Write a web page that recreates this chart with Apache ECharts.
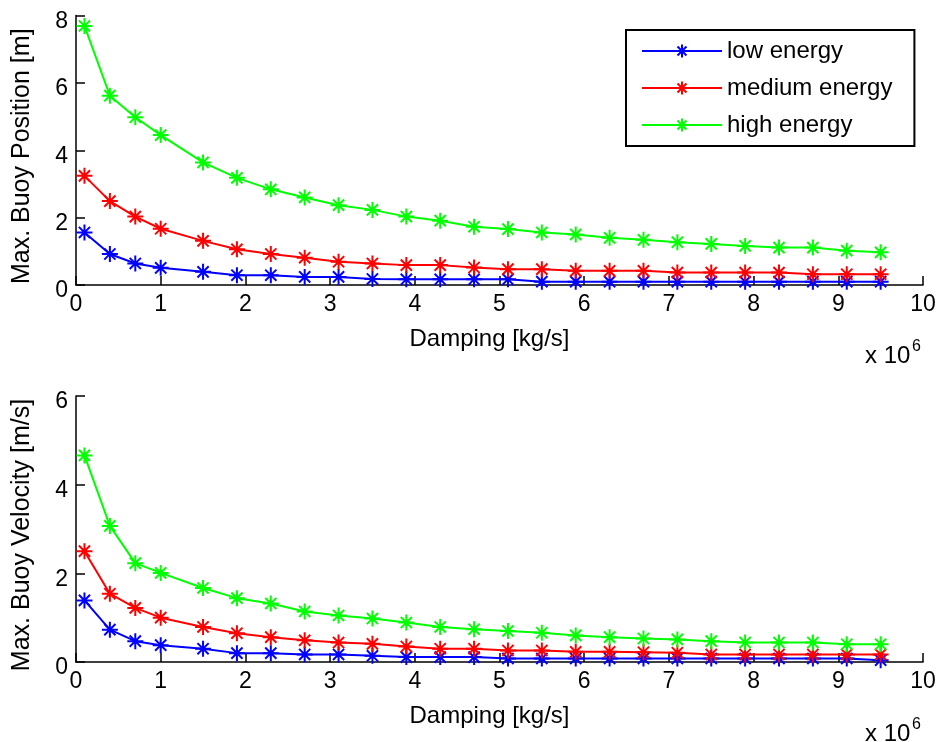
<!DOCTYPE html>
<html>
<head>
<meta charset="utf-8">
<script src="https://cdn.jsdelivr.net/npm/echarts@6/dist/echarts.min.js"></script>
<style>
  html, body { margin: 0; padding: 0; background: #fff; }
  #chart { width: 943px; height: 742px; }
</style>
</head>
<body>
<div id="chart"></div>
<script>
// Damping values (x 10^6 kg/s)
const damping = [0.1, 0.4, 0.7, 1.0, 1.5, 1.9, 2.3, 2.7, 3.1, 3.5, 3.9, 4.3, 4.7,
                 5.1, 5.5, 5.9, 6.3, 6.7, 7.1, 7.5, 7.9, 8.3, 8.7, 9.1, 9.5];

// Maximum buoy position [m]
const posLow    = [1.56, 0.92, 0.64, 0.51, 0.39, 0.29, 0.29, 0.24, 0.24, 0.18, 0.17, 0.17, 0.17,
                   0.17, 0.10, 0.10, 0.10, 0.10, 0.10, 0.10, 0.10, 0.10, 0.10, 0.10, 0.10];
const posMedium = [3.24, 2.49, 2.03, 1.67, 1.31, 1.06, 0.92, 0.81, 0.69, 0.64, 0.59, 0.59, 0.52,
                   0.47, 0.47, 0.42, 0.42, 0.42, 0.37, 0.37, 0.37, 0.37, 0.32, 0.32, 0.32];
const posHigh   = [7.69, 5.62, 4.98, 4.45, 3.64, 3.18, 2.84, 2.60, 2.37, 2.23, 2.03, 1.91, 1.73,
                   1.66, 1.56, 1.50, 1.40, 1.34, 1.27, 1.22, 1.16, 1.11, 1.11, 1.02, 0.97];

// Maximum buoy velocity [m/s]
const velLow    = [1.39, 0.73, 0.47, 0.38, 0.30, 0.20, 0.20, 0.17, 0.17, 0.14, 0.11, 0.11, 0.11,
                   0.08, 0.08, 0.08, 0.08, 0.08, 0.08, 0.08, 0.08, 0.08, 0.08, 0.08, 0.04];
const velMedium = [2.50, 1.54, 1.22, 1.00, 0.79, 0.65, 0.56, 0.49, 0.44, 0.41, 0.35, 0.30, 0.30,
                   0.26, 0.26, 0.23, 0.23, 0.22, 0.21, 0.17, 0.17, 0.17, 0.17, 0.17, 0.17];
const velHigh   = [4.66, 3.07, 2.23, 2.01, 1.67, 1.44, 1.32, 1.14, 1.05, 0.98, 0.89, 0.79, 0.74,
                   0.70, 0.66, 0.60, 0.56, 0.53, 0.51, 0.47, 0.44, 0.44, 0.44, 0.40, 0.40];

const seriesNames = ['low energy', 'medium energy', 'high energy'];
const seriesColors = ['#0000ff', '#ff0000', '#00ff00'];

const FONT = '"Liberation Sans", Arial, Helvetica, sans-serif';
// asterisk marker: horizontal, vertical and two diagonal strokes
const ASTERISK = 'path://M0,-10L0,10M-10,0L10,0M-7,-7L7,7M-7,7L7,-7';

const pairs = ys => damping.map((x, i) => [x, ys[i]]);

function xAxisDef(gridIndex) {
  return {
    gridIndex,
    type: 'value',
    min: 0, max: 10, interval: 1,
    name: 'Damping [kg/s]',
    nameLocation: 'middle',
    nameGap: 42,
    nameTextStyle: { fontFamily: FONT, fontSize: 24, color: '#000', padding: [0, 20, 0, 0] },
    axisLine: { lineStyle: { color: '#000', width: 1.5 } },
    axisTick: { inside: true, length: 9, lineStyle: { color: '#000', width: 1.5 } },
    axisLabel: { fontFamily: FONT, fontSize: 23, color: '#000', margin: 8 },
    splitLine: { show: false }
  };
}

function yAxisDef(gridIndex, max, title) {
  return {
    gridIndex,
    type: 'value',
    min: 0, max, interval: 2,
    name: title,
    nameLocation: 'middle',
    nameGap: 41,
    nameTextStyle: { fontFamily: FONT, fontSize: 25, color: '#000', padding: [0, 12, 0, 0] },
    axisLine: { show: true, lineStyle: { color: '#000', width: 1.5 } },
    axisTick: { show: true, inside: true, length: 9, lineStyle: { color: '#000', width: 1.5 } },
    axisLabel: { fontFamily: FONT, fontSize: 23, color: '#000', margin: 8,
                 verticalAlign: 'top', lineHeight: 12 },
    splitLine: { show: false }
  };
}

function lineSeries(name, color, ys, idx) {
  return {
    name,
    type: 'line',
    xAxisIndex: idx, yAxisIndex: idx,
    data: pairs(ys),
    symbol: ASTERISK,
    symbolSize: 16,
    showAllSymbol: true,
    lineStyle: { color, width: 2 },
    itemStyle: { color, borderColor: color, borderWidth: 2 },
    emphasis: { disabled: true },
    animation: false
  };
}

const posSets = [posLow, posMedium, posHigh];
const velSets = [velLow, velMedium, velHigh];

const series = [];
seriesNames.forEach((n, i) => series.push(lineSeries(n, seriesColors[i], posSets[i], 0)));
seriesNames.forEach((n, i) => series.push(lineSeries(n, seriesColors[i], velSets[i], 1)));

function exponentLabel(top) {
  return {
    type: 'group',
    children: [
      { type: 'text', left: 865, top: top,
        style: { text: 'x 10', font: '24px ' + FONT, fill: '#000' } },
      { type: 'text', left: 912, top: top - 5,
        style: { text: '6', font: '16px ' + FONT, fill: '#000' } }
    ]
  };
}

const chart = echarts.init(document.getElementById('chart'), null, { renderer: 'canvas' });
chart.setOption({
  backgroundColor: '#fff',
  animation: false,
  grid: [
    { left: 76, top: 15.5, width: 847, height: 269.5 },
    { left: 76, top: 396, width: 847, height: 266 }
  ],
  xAxis: [xAxisDef(0), xAxisDef(1)],
  yAxis: [
    yAxisDef(0, 8, 'Max. Buoy Position [m]'),
    yAxisDef(1, 6, 'Max. Buoy Velocity [m/s]')
  ],
  legend: {
    data: seriesNames,
    orient: 'vertical',
    left: 626, top: 30,
    padding: [9, 22, 9, 15],
    itemWidth: 80,
    itemHeight: 16,
    itemGap: 13,
    borderColor: '#000',
    borderWidth: 2,
    backgroundColor: '#fff',
    textStyle: { fontFamily: FONT, fontSize: 24, color: '#000', lineHeight: 24 },
    selectedMode: false
  },
  graphic: [exponentLabel(344), exponentLabel(722)],
  series
});
</script>
</body>
</html>
